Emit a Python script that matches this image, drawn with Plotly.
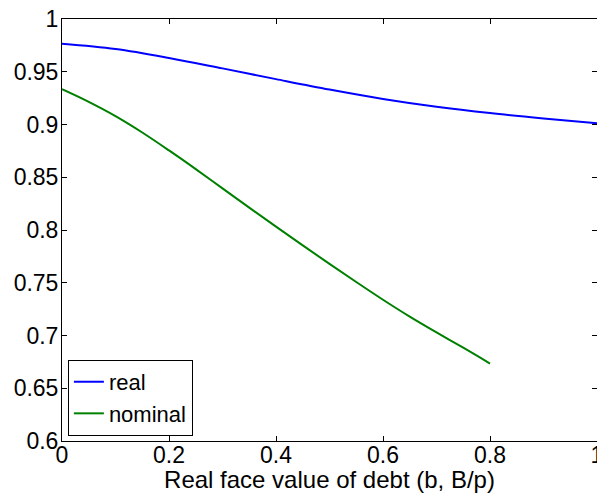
import plotly.graph_objects as go

# Real face value of debt grid and the two value curves
x_real = [0.0, 0.1, 0.2, 0.3, 0.4, 0.5, 0.6, 0.7, 0.8, 0.9, 1.0]
y_real = [0.9765, 0.9715, 0.9631, 0.9532, 0.9430, 0.9331, 0.9242, 0.9168, 0.9108, 0.9058, 0.9013]

x_nominal = [0.0, 0.05, 0.1, 0.15, 0.2, 0.25, 0.3, 0.35, 0.4, 0.45, 0.5,
             0.55, 0.6, 0.65, 0.7, 0.75, 0.8]
y_nominal = [0.9334, 0.9214, 0.9079, 0.8924, 0.8754, 0.8577, 0.8394, 0.8212, 0.8032,
             0.7854, 0.7679, 0.7507, 0.7339, 0.7179, 0.7029, 0.6884, 0.6734]

x_ticks = [0, 0.2, 0.4, 0.6, 0.8, 1]
x_tick_text = ["0", "0.2", "0.4", "0.6", "0.8", "1"]
y_ticks = [0.6, 0.65, 0.7, 0.75, 0.8, 0.85, 0.9, 0.95, 1]
y_tick_text = ["0.6", "0.65", "0.7", "0.75", "0.8", "0.85", "0.9", "0.95", "1"]

FONT = "Liberation Sans, Arial, Helvetica, sans-serif"

fig = go.Figure()
fig.add_trace(go.Scatter(x=x_real, y=y_real, mode="lines", name="real",
                         line=dict(color="#0000ff", width=2, shape="spline", smoothing=1)))
fig.add_trace(go.Scatter(x=x_nominal, y=y_nominal, mode="lines", name="nominal",
                         line=dict(color="#008000", width=2, shape="spline", smoothing=1)))

axis_common = dict(
    showline=True, linecolor="black", linewidth=1,
    mirror="ticks", ticks="inside", ticklen=5, tickwidth=1, tickcolor="black",
    showgrid=False, zeroline=False, ticklabeloverflow="allow",
    tickfont=dict(family=FONT, size=23, color="black"),
)

fig.update_xaxes(range=[0, 1], tickvals=x_ticks, ticktext=x_tick_text,
                 ticklabelstandoff=-7,
                 title=dict(text="Real face value of debt (b, B/p)",
                            font=dict(family=FONT, size=24, color="black"),
                            standoff=2),
                 **axis_common)
fig.update_yaxes(range=[0.6, 1], tickvals=y_ticks, ticktext=y_tick_text,
                 ticklabelstandoff=-2, **axis_common)

fig.update_layout(
    width=597, height=493,
    margin=dict(l=62, r=0, t=19, b=52, autoexpand=False),
    plot_bgcolor="white", paper_bgcolor="white",
    font=dict(family=FONT, size=23, color="black"),
    legend=dict(x=0.011, y=0.012, xanchor="left", yanchor="bottom",
                bordercolor="black", borderwidth=1, bgcolor="white",
                font=dict(family=FONT, size=22, color="black"),
                tracegroupgap=0, itemwidth=30),
    showlegend=True,
)

fig.write_html("out.html")
